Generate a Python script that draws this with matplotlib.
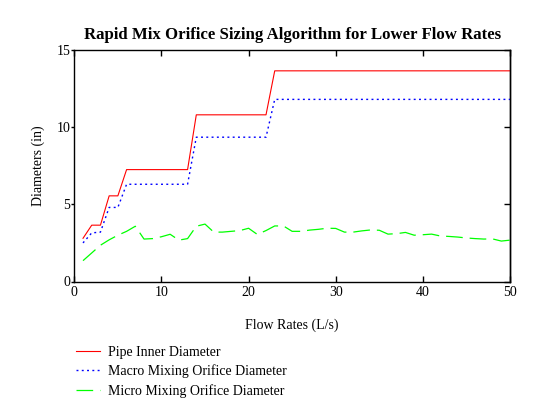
import numpy as np
import matplotlib
matplotlib.use('Agg')
import matplotlib.pyplot as plt

plt.rcParams['font.family'] = ['Liberation Serif', 'DejaVu Serif']
plt.rcParams['lines.scale_dashes'] = False

# flow rates (L/s)
flow = list(range(1, 51))

# pipe inner diameter (in)
pipe = [2.8, 3.65, 3.65, 5.55, 5.55] + [7.25] * 8 + [10.8] * 9 + [13.65] * 28

# macro mixing orifice diameter (in)
macro = [2.5, 3.15, 3.2, 4.8, 4.8] + [6.3] * 8 + [9.35] * 9 + [11.8] * 28

# micro mixing orifice diameter (in)
micro = [1.35, 1.85, 2.35, 2.7, 3.0, 3.25, 3.58, 2.75, 2.78, 2.9,
         3.06, 2.68, 2.78, 3.58, 3.72, 3.2, 3.2, 3.25, 3.3, 3.45,
         3.05, 3.3, 3.6, 3.6, 3.25, 3.25, 3.33, 3.38, 3.45, 3.44,
         3.2, 3.2, 3.28, 3.34, 3.32, 3.07, 3.1, 3.18, 3.0, 3.03,
         3.07, 2.95, 2.92, 2.88, 2.82, 2.78, 2.75, 2.76, 2.62, 2.68]

labels = ['Pipe Inner Diameter', 'Macro Mixing Orifice Diameter',
          'Micro Mixing Orifice Diameter']

fig = plt.figure(figsize=(5.56, 4.16), dpi=100)
ax = fig.add_axes([74.3 / 556, 1 - 281.5 / 416, (510 - 74.3) / 556, (281.5 - 50) / 416])

l1, = ax.plot(flow, pipe, color='#ff0000', lw=0.8)
l2, = ax.plot(flow, macro, color='#0000ff', lw=1.0, dashes=(1.4, 2.4))
l3, = ax.plot(flow, micro, color='#00ff00', lw=0.9, dashes=(12, 5))

ax.set_xlim(0, 50)
ax.set_ylim(0, 15)
ax.set_xticks([0, 10, 20, 30, 40, 50])
ax.set_yticks([0, 5, 10, 15])
for s in ax.spines.values():
    s.set_linewidth(1.0)
ax.tick_params(axis='x', direction='in', length=4, width=1, top=True,
               labelsize=10, pad=3)
ax.tick_params(axis='y', direction='out', length=2.5, width=1, right=False,
               labelsize=10, pad=0.5)

# inward ticks on the right side
sec = ax.secondary_yaxis('right')
sec.set_yticks([0, 5, 10, 15])
sec.tick_params(direction='in', length=4, width=1, labelright=False)
sec.spines['right'].set_linewidth(1.0)

ax.set_title('Rapid Mix Orifice Sizing Algorithm for Lower Flow Rates',
             fontsize=12.1, fontweight='bold', pad=8)
ax.set_xlabel('Flow Rates (L/s)', fontsize=10, labelpad=14)
ax.set_ylabel('Diameters (in)', fontsize=10, labelpad=8)

fig.legend([l1, l2, l3], labels, loc='upper left',
           bbox_to_anchor=(70 / 556, 1 - 340 / 416), frameon=False,
           fontsize=10, handlelength=1.75, handletextpad=0.55,
           labelspacing=0.42, borderaxespad=0)

fig.savefig('out.png', dpi=100)
